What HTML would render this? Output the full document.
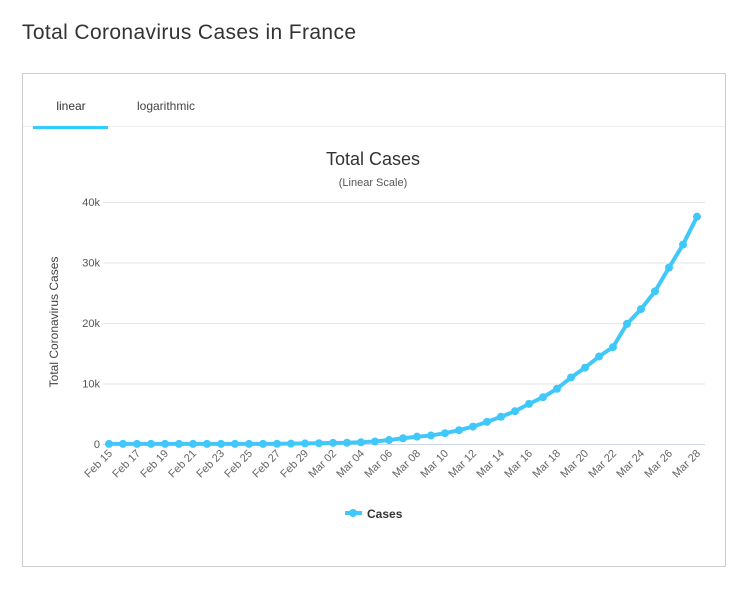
<!DOCTYPE html>
<html><head><meta charset="utf-8"><style>
body{margin:0;width:736px;height:589px;background:#fff;font-family:"Liberation Sans","DejaVu Sans",sans-serif;overflow:hidden}
</style></head><body>
<svg width="736" height="589" style="position:absolute;left:0;top:0">
<text x="22" y="39" font-size="21" fill="#333" textLength="334">Total Coronavirus Cases in France</text>
<rect x="22.5" y="73.5" width="703" height="493" fill="none" stroke="#ccc"/>
<line x1="23" y1="126.5" x2="725" y2="126.5" stroke="#eee"/>
<text x="71" y="110" font-size="12" fill="#333" text-anchor="middle">linear</text>
<rect x="33" y="126" width="75" height="3" fill="#33ccff"/>
<text x="166" y="110" font-size="12" fill="#444" text-anchor="middle">logarithmic</text>
<text x="373" y="165" font-size="18" fill="#333" text-anchor="middle">Total Cases</text>
<text x="373" y="186" font-size="11" fill="#555" text-anchor="middle">(Linear Scale)</text>
<text transform="translate(58,322) rotate(-90)" font-size="12" fill="#444" text-anchor="middle">Total Coronavirus Cases</text>
<g id="grid"></g><g id="xl"></g><g id="series"></g>
<g>
<line x1="345" y1="513" x2="362" y2="513" stroke="#40c8fa" stroke-width="4"/>
<circle cx="353" cy="513" r="4" fill="#40c8fa"/>
<text x="367" y="518" font-size="12" font-weight="bold" fill="#333">Cases</text>
</g>
</svg>
<script>
const dates=["Feb 15","Feb 16","Feb 17","Feb 18","Feb 19","Feb 20","Feb 21","Feb 22","Feb 23","Feb 24","Feb 25","Feb 26","Feb 27","Feb 28","Feb 29","Mar 01","Mar 02","Mar 03","Mar 04","Mar 05","Mar 06","Mar 07","Mar 08","Mar 09","Mar 10","Mar 11","Mar 12","Mar 13","Mar 14","Mar 15","Mar 16","Mar 17","Mar 18","Mar 19","Mar 20","Mar 21","Mar 22","Mar 23","Mar 24","Mar 25","Mar 26","Mar 27","Mar 28"];
const cases=[12,12,12,12,12,12,12,12,12,12,14,18,38,57,100,130,191,212,285,423,653,949,1209,1412,1784,2281,2876,3661,4499,5423,6633,7730,9134,10995,12612,14459,16018,19856,22302,25233,29155,32964,37575];
const yTicks=[0,10000,20000,30000,40000];
const yTickLabels=["0","10k","20k","30k","40k"];
const NS="http://www.w3.org/2000/svg";
const x0=109,x1=697,yb=444,yt=202,ymax=40000;
const xs=i=>x0+(x1-x0)*i/(dates.length-1);
const ys=v=>yb-(yb-yt)*v/ymax;
function mk(t,a,p){const e=document.createElementNS(NS,t);for(const k in a)e.setAttribute(k,a[k]);p.appendChild(e);return e;}
const g=document.getElementById('grid');
yTicks.forEach((v,i)=>{
 const l=mk('line',{x1:103,x2:705,y1:ys(v)+.5,y2:ys(v)+.5,stroke:i==0?'#ccd6eb':'#e6e6e6'},g);
 
 
 const t=mk('text',{x:100,y:ys(v)+4,'font-size':11,fill:'#555','text-anchor':'end'},g);
 t.textContent=yTickLabels[i];
 
 
});
const xl=document.getElementById('xl');
dates.forEach((d,i)=>{if(i%2)return;
 const t=mk('text',{transform:`translate(${xs(i)+4},${454}) rotate(-45)`,'font-size':11,fill:'#666','text-anchor':'end'},xl);
 t.textContent=d;
 
 
});
const s=document.getElementById('series');
const p=mk('path',{d:cases.map((v,i)=>(i?'L':'M')+xs(i)+','+ys(v)).join(''),fill:'none',stroke:'#40c8fa','stroke-width':4,'stroke-linejoin':'round'},s);


cases.forEach((v,i)=>{
 const c=mk('circle',{cx:xs(i),cy:ys(v),r:4,fill:'#40c8fa'},s);
 
 
});
</script>
</body></html>
